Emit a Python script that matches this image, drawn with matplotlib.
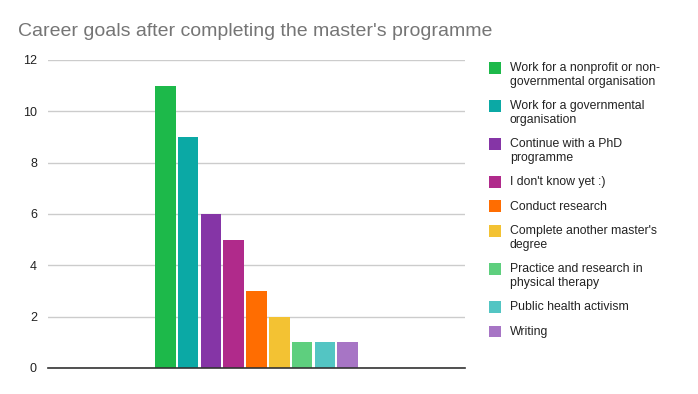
import matplotlib
matplotlib.use("Agg")
import matplotlib.pyplot as plt
from matplotlib.patches import Rectangle

plt.rcParams['font.family'] = ['Liberation Sans', 'DejaVu Sans']

categories = [
    "Work for a nonprofit or non-\ngovernmental organisation",
    "Work for a governmental\norganisation",
    "Continue with a PhD\nprogramme",
    "I don't know yet :)",
    "Conduct research",
    "Complete another master's\ndegree",
    "Practice and research in\nphysical therapy",
    "Public health activism",
    "Writing",
]
values = [11, 9, 6, 5, 3, 2, 1, 1, 1]
colors = ["#1db94a", "#0ba9a5", "#8535a6", "#b02a8b", "#ff6d01",
          "#f3c233", "#5ecf7e", "#53c5c3", "#a775c5"]
yticks = [0, 2, 4, 6, 8, 10, 12]
title = "Career goals after completing the master's programme"

W, H = 698, 394
fig = plt.figure(figsize=(W / 100, H / 100), dpi=100)
ax = fig.add_axes([48 / W, 1 - 368 / H, (465 - 48) / W, (368 - 60) / H])

xs = list(range(len(values)))
ax.bar(xs, values, width=0.9, color=colors, zorder=3)
ax.set_xlim(4 - 9.15, 4 + 9.15)
ax.set_ylim(0, 12)
ax.set_yticks(yticks)
ax.set_yticklabels([str(t) for t in yticks], fontsize=9, color="#222222")
ax.set_xticks([])
ax.tick_params(axis='y', length=0, pad=8)
ax.grid(axis='y', color="#cccccc", linewidth=1, zorder=0)
for s in ['top', 'right', 'left']:
    ax.spines[s].set_visible(False)
ax.spines['bottom'].set_color("#333333")
ax.spines['bottom'].set_linewidth(1.2)
ax.spines['bottom'].set_zorder(4)

fig.text(18 / W, 1 - 36 / H, title, fontsize=14, color="#757575", va='baseline', ha='left')

# legend
y = 62.0
for lab, col in zip(categories, colors):
    nlines = lab.count("\n") + 1
    fig.patches.append(Rectangle((489 / W, 1 - (y + 11.5) / H), 12 / W, 11.5 / H,
                                 transform=fig.transFigure, facecolor=col, edgecolor='none'))
    fig.text(510 / W, 1 - y / H, lab, fontsize=8.8, color="#222222",
             va='top', ha='left', linespacing=1.25)
    y += 11 + 13.5 * nlines

fig.savefig("out.png", dpi=100)
